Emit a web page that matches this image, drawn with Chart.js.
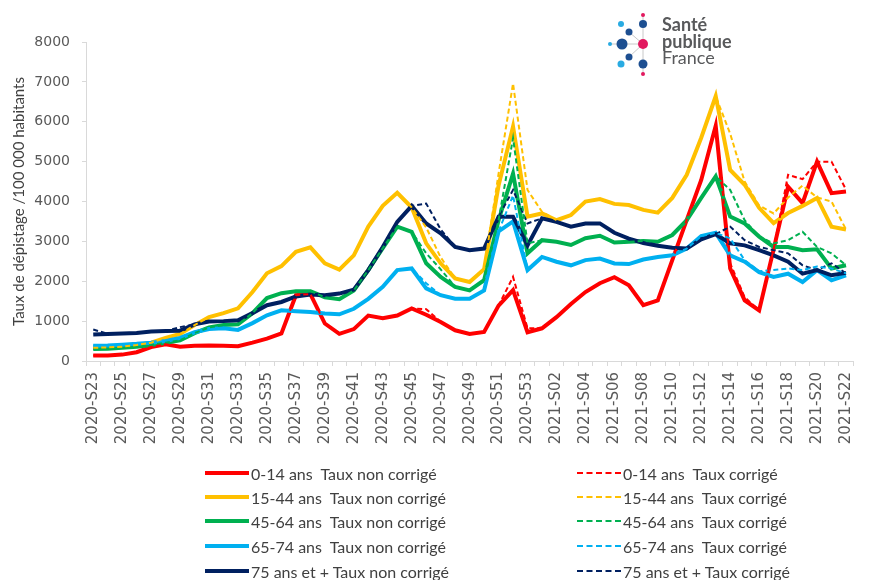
<!DOCTYPE html>
<html>
<head>
<meta charset="utf-8">
<script src="https://cdn.jsdelivr.net/npm/chart.js@4.4.1/dist/chart.umd.min.js"></script>
<style>
  html, body { margin:0; padding:0; background:#fff; }
  #wrap { position:relative; width:870px; height:580px; overflow:hidden; }
  #chartBox { position:absolute; left:0; top:0; width:870px; height:450px; }
  #legend { position:absolute; left:0; top:0; width:870px; height:580px; pointer-events:none;
            font-family: Lato, "Liberation Sans", sans-serif; font-size:16px; color:#404040; }
  .lg-item { position:absolute; display:flex; align-items:center; white-space:pre; height:22px; }
  .lg-line { width:44px; height:0; margin-right:2px; }
  #logo { position:absolute; left:600px; top:5px; }
  #logoText { position:absolute; left:662px; top:16px; font-family: Lato, "Liberation Sans", sans-serif;
              color:#58595b; font-size:18px; line-height:16.5px; }
  #logoText b { font-weight:700; display:block; }
  #logoText span { display:block; font-weight:400; }
</style>
</head>
<body>
<div id="wrap">
  <div id="chartBox"><canvas id="c" width="870" height="450"></canvas></div>
  <div id="legend"></div>
  <svg id="logo" width="60" height="75" viewBox="0 0 60 75">
    <g stroke="#c8c8c8" stroke-width="1">
      <line x1="43" y1="10" x2="43" y2="69"/>
      <line x1="10" y1="39" x2="43" y2="39"/>
      <line x1="29" y1="27" x2="43" y2="39"/>
      <line x1="29" y1="52" x2="43" y2="39"/>
    </g>
    <circle cx="43" cy="10" r="2" fill="#e2195f"/>
    <circle cx="21" cy="19" r="3" fill="#29abe2"/>
    <circle cx="43" cy="19" r="4" fill="#1d4f91"/>
    <circle cx="29" cy="27" r="3.5" fill="#1d4f91"/>
    <circle cx="10" cy="39" r="2" fill="#29abe2"/>
    <circle cx="22" cy="39" r="5.5" fill="#1d4f91"/>
    <circle cx="43" cy="39" r="5" fill="#e2195f"/>
    <circle cx="29" cy="52" r="3.5" fill="#1d4f91"/>
    <circle cx="21" cy="59" r="3.5" fill="#29abe2"/>
    <circle cx="43" cy="59" r="4.5" fill="#1d4f91"/>
    <circle cx="43" cy="69" r="2" fill="#e2195f"/>
  </svg>
  <div id="logoText"><b>Santé</b><b>publique</b><span>France</span></div>
</div>
<script>
const weeks = ['2020-S23','2020-S24','2020-S25','2020-S26','2020-S27','2020-S28','2020-S29','2020-S30','2020-S31','2020-S32',
  '2020-S33','2020-S34','2020-S35','2020-S36','2020-S37','2020-S38','2020-S39','2020-S40','2020-S41','2020-S42',
  '2020-S43','2020-S44','2020-S45','2020-S46','2020-S47','2020-S48','2020-S49','2020-S50','2020-S51','2020-S52',
  '2020-S53','2021-S01','2021-S02','2021-S03','2021-S04','2021-S05','2021-S06','2021-S07','2021-S08','2021-S09',
  '2021-S10','2021-S11','2021-S12','2021-S13','2021-S14','2021-S15','2021-S16','2021-S17','2021-S18','2021-S19',
  '2021-S20','2021-S21','2021-S22'];

const yTicks = [0,1000,2000,3000,4000,5000,6000,7000,8000];

// Taux non corrigé
const nc_0_14 = [140,140,160,220,350,420,360,380,390,380, 370,460,560,690,1650,1680,940,680,800,1140,
  1070,1140,1320,1160,980,770,680,730,1390,1780, 720,820,1100,1430,1730,1950,2100,1900,1400,1520,
  2530,3540,4540,5900,2320,1520,1270,2800,4370,3960, 5000,4210,4250];
const nc_15_44 = [330,340,360,400,460,580,680,900,1100,1200, 1320,1730,2200,2380,2740,2850,2450,2290,2650,3370,
  3890,4220,3850,2950,2450,2070,1980,2300,4400,5880, 3620,3700,3530,3660,4000,4060,3940,3910,3790,3720,
  4090,4670,5600,6640,4790,4420,3840,3460,3710,3890, 4090,3370,3300];
const nc_45_64 = [300,310,330,360,400,460,520,700,840,900, 920,1200,1580,1700,1750,1750,1600,1550,1770,2280,
  2830,3370,3240,2450,2110,1860,1770,2025,3530,4700, 2700,3030,2990,2910,3080,3140,2970,2990,3010,2990,
  3160,3530,4090,4630,3620,3450,3120,2860,2860,2780, 2800,2320,2400];
const nc_65_74 = [380,390,410,430,460,500,580,720,800,820, 780,950,1145,1270,1250,1230,1190,1170,1310,1560,
  1860,2280,2320,1820,1650,1560,1560,1770,3250,3500, 2280,2610,2490,2400,2530,2570,2445,2430,2545,2610,
  2650,2820,3130,3215,2650,2490,2230,2110,2190,1980, 2280,2025,2150];
const nc_75p = [665,680,690,700,740,750,760,920,990,1000, 1020,1200,1400,1480,1620,1670,1650,1690,1790,2280,
  2860,3490,3890,3450,3200,2860,2780,2820,3620,3620, 2900,3580,3490,3370,3450,3450,3215,3070,2960,2890,
  2840,2820,3050,3180,2950,2900,2780,2650,2490,2190, 2280,2150,2210];

// Taux corrigé
const c_0_14 = [140,140,160,220,350,420,360,380,390,380, 370,460,560,690,1650,1680,940,680,800,1140,
  1070,1140,1320,1300,980,770,680,730,1390,2110, 820,820,1100,1430,1730,1950,2100,1900,1400,1520,
  2530,3540,4540,5900,2450,1600,1270,2800,4670,4560, 5000,5000,4300];
const c_15_44 = [330,340,360,400,460,580,680,900,1100,1200, 1320,1730,2200,2380,2740,2850,2450,2290,2650,3370,
  3890,4220,3850,3350,2600,2070,1980,2300,4700,6960, 4290,3740,3530,3660,4000,4060,3940,3910,3790,3720,
  4090,4670,5600,6640,5700,4500,3900,3700,4100,4400, 4100,4000,3300];
const c_45_64 = [300,310,330,360,400,460,520,700,840,900, 920,1200,1580,1700,1750,1750,1600,1550,1770,2280,
  2830,3370,3240,2700,2300,1860,1770,2025,3530,5590, 2950,3030,2990,2910,3080,3140,2970,2990,3010,2990,
  3160,3530,4090,4630,4290,3530,3120,2950,3030,3240, 2860,2700,2400];
const c_65_74 = [380,390,410,430,460,500,580,720,800,820, 780,950,1145,1270,1250,1230,1190,1170,1310,1560,
  1860,2280,2320,1950,1650,1560,1560,1770,3250,4150, 2280,2610,2490,2400,2530,2570,2445,2430,2545,2610,
  2650,2820,3130,3215,3070,2530,2250,2280,2320,2280, 2370,2320,2200];
const c_75p = [790,680,690,700,740,750,850,920,990,1000, 1020,1200,1400,1480,1620,1670,1650,1690,1790,2280,
  2860,3490,3890,3950,3300,2860,2780,2820,3620,4290, 3450,3580,3490,3370,3450,3450,3215,3070,2960,2890,
  2840,2820,3050,3180,3370,3030,2860,2780,2700,2400, 2280,2450,2200];

const groups = ['0-14 ans ', '15-44 ans ', '45-64 ans ', '65-74 ans ', '75 ans et +'];
const colors = ['#FF0000', '#FFC000', '#00B050', '#00B0F0', '#002060'];
const ncData = [nc_0_14, nc_15_44, nc_45_64, nc_65_74, nc_75p];
const cData = [c_0_14, c_15_44, c_45_64, c_65_74, c_75p];

const datasets = [];
// dashed (corrigé) drawn on top
groups.forEach((g, i) => {
  datasets.push({
    label: g + ' Taux corrigé', data: cData[i], borderColor: colors[i], backgroundColor: colors[i],
    borderWidth: 2, borderDash: [5, 3], pointRadius: 0, tension: 0, fill: false,
    order: 1, _kind: 'c', _grp: i
  });
});
// solid (non corrigé)
groups.forEach((g, i) => {
  datasets.push({
    label: g + ' Taux non corrigé', data: ncData[i], borderColor: colors[i], backgroundColor: colors[i],
    borderWidth: 4, pointRadius: 0, tension: 0, fill: false,
    order: 10 - i, _kind: 'nc', _grp: i
  });
});

const htmlLegend = {
  id: 'htmlLegend',
  afterUpdate(chart) {
    const box = document.getElementById('legend');
    box.innerHTML = '';
    const rowY = [462, 486, 510, 535, 560];
    chart.data.datasets.forEach(ds => {
      const item = document.createElement('div');
      item.className = 'lg-item';
      item.style.top = rowY[ds._grp] + 'px';
      item.style.left = (ds._kind === 'nc' ? 205 : 577) + 'px';
      const ln = document.createElement('div');
      ln.className = 'lg-line';
      if (ds._kind === 'nc') ln.style.borderTop = '4px solid ' + ds.borderColor;
      else ln.style.borderTop = '2px dashed ' + ds.borderColor;
      const tx = document.createElement('span');
      tx.textContent = ds.label;
      item.appendChild(ln);
      item.appendChild(tx);
      box.appendChild(item);
    });
  }
};

new Chart(document.getElementById('c'), {
  type: 'line',
  data: { labels: weeks, datasets },
  plugins: [htmlLegend],
  options: {
    responsive: false,
    animation: false,
    layout: { padding: { top: 42, left: 0, right: 1, bottom: 0 } },
    plugins: { legend: { display: false }, tooltip: { enabled: false } },
    scales: {
      x: {
        type: 'category',
        offset: true,
        afterFit(scale) { scale.height = 89; },
        border: { color: '#d9d9d9', width: 1 },
        grid: { offset: true, drawOnChartArea: false, drawTicks: true, tickLength: 5, color: '#d9d9d9' },
        ticks: {
          autoSkip: false, maxRotation: 90, minRotation: 90, padding: 6,
          color: '#595959', font: { family: 'DejaVu Sans', size: 15 },
          callback(v, i) { return i % 2 === 0 ? weeks[i] : ''; }
        }
      },
      y: {
        min: 0, max: 8000,
        afterFit(scale) { scale.width = 86; },
        afterBuildTicks(scale) { scale.ticks = yTicks.map(v => ({ value: v })); },
        border: { color: '#d9d9d9', width: 1 },
        grid: { drawOnChartArea: false, drawTicks: true, tickLength: 4, color: '#d9d9d9' },
        ticks: {
          padding: 12, color: '#595959', font: { family: 'DejaVu Sans', size: 14 },
          callback(v) { return String(v); }
        },
        title: {
          display: true, text: 'Taux de dépistage /100 000 habitants', color: '#404040',
          font: { family: 'Lato', size: 15 }, padding: { top: 10, bottom: 0 }
        }
      }
    }
  }
});
</script>
</body>
</html>
